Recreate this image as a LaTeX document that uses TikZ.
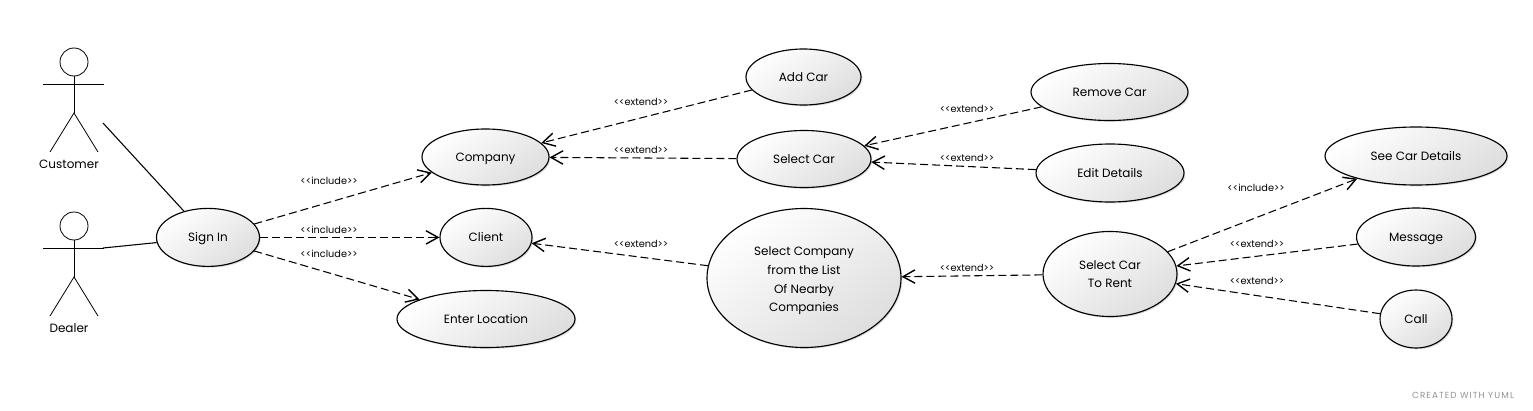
\documentclass[tikz,border=0pt]{standalone}
\usepackage{fontspec}
\setmainfont{Poppins}
\usetikzlibrary{shapes.geometric,arrows.meta,shadows,shadings}
\tikzset{
  x=0.75pt,y=-0.75pt,
  usecase/.style={ellipse,draw=black,line width=0.85pt,inner sep=0pt,
    top color=white,bottom color=black!13,shading angle=35,
    drop shadow={shadow xshift=1pt,shadow yshift=-1pt,fill=black,opacity=0.13},
    font=\fontsize{9}{13.9}\selectfont,align=center},
  oneline/.style={text height=8.3pt,text depth=2pt},
  dep/.style={draw=black,line width=0.8pt,dash pattern=on 6pt off 3pt,
    -{Straight Barb[length=9pt,width=10pt,line width=1.05pt]}},
  assoc/.style={draw=black,line width=0.8pt},
  stereo/.style={font=\fontsize{7.3}{9}\selectfont,inner sep=0pt},
  actorlabel/.style={font=\fontsize{9}{11}\selectfont,inner sep=0pt},
  limb/.style={draw=black,line width=0.6pt},
  credit/.style={font=\fontsize{6.6}{8}\selectfont\addfontfeature{LetterSpace=12},text=black!40!blue!10!white,text=gray!85,inner sep=0pt}
}
\newcommand{\actorfig}[3]{%
  \node[circle,draw=black,line width=0.6pt,minimum size=21pt,inner sep=0pt,fill=white] (#3h) at (#1,#2) {};
  \coordinate (#3n) at (#1,#2+22);
  \coordinate (#3l) at (#1-31,#2+22);
  \coordinate (#3r) at (#1+30,#2+22);
  \coordinate (#3w) at (#1,#2+51);
  \coordinate (#3a) at (#1-24,#2+90);
  \coordinate (#3b) at (#1+24,#2+90);
  \draw[limb] (#3h) -- (#3w);
  \draw[limb] (#3l) -- (#3r);
  \draw[limb] (#3a) -- (#3w) -- (#3b);
}
\begin{document}
\begin{tikzpicture}
\useasboundingbox[fill=white] (0,0) rectangle (1533,410);
\actorfig{74}{62}{cu}
\actorfig{74}{226}{de}
\node[actorlabel] (customer) at (69,164) {Customer};
\node[actorlabel] (dealer) at (69,328) {Dealer};

\node[usecase,oneline,minimum width=77.25pt,minimum height=43.5pt] (signin) at (208,237.4) {Sign In};
\node[usecase,oneline,minimum width=95.25pt,minimum height=42pt] (company) at (485.5,157) {Company};
\node[usecase,oneline,minimum width=69pt,minimum height=43.5pt] (client) at (486,237.4) {Client};
\node[usecase,oneline,minimum width=133.5pt,minimum height=42.75pt] (enter) at (486,319) {Enter Location};
\node[usecase,oneline,minimum width=86.25pt,minimum height=42pt] (addcar) at (803.5,77) {Add Car};
\node[usecase,oneline,minimum width=100.5pt,minimum height=42.75pt] (selcar) at (804,159) {Select Car};
\node[usecase,minimum width=145.5pt,minimum height=104.25pt] (selco) at (804,278) {\rule{0pt}{11pt}Select Company\\from the List\\Of Nearby\\Companies};
\node[usecase,oneline,minimum width=117.75pt,minimum height=42.75pt] (remove) at (1109.5,92) {Remove Car};
\node[usecase,oneline,minimum width=111pt,minimum height=43.5pt] (edit) at (1110,173) {Edit Details};
\node[usecase,minimum width=100.5pt,minimum height=63.75pt] (rent) at (1110,274) {Select Car\\To Rent};
\node[usecase,oneline,minimum width=136.5pt,minimum height=43.5pt] (details) at (1416,156) {See Car Details};
\node[usecase,oneline,minimum width=89.25pt,minimum height=43.5pt] (message) at (1416,237) {Message};
\node[usecase,oneline,minimum width=54pt,minimum height=43.5pt] (call) at (1416,319) {Call};

\coordinate (cuend) at (103,123);
\coordinate (deend) at (103,248);
\draw[assoc] (cuend) -- (signin);
\draw[assoc] (deend) -- (signin);

\draw[dep] (signin) -- (company);
\draw[dep] (signin) -- (client);
\draw[dep] (signin) -- (enter);
\draw[dep] (addcar) -- (company);
\draw[dep] (selcar) -- (company);
\draw[dep] (selco) -- (client);
\draw[dep] (remove) -- (selcar);
\draw[dep] (edit) -- (selcar);
\draw[dep] (rent) -- (selco);
\draw[dep] (rent) -- (details);
\draw[dep] (message) -- (rent);
\draw[dep] (call) -- (rent);

\node[stereo] (l1) at (329,181) {{<}{<}include{>}{>}};
\node[stereo] (l2) at (329,230) {{<}{<}include{>}{>}};
\node[stereo] (l3) at (329,254) {{<}{<}include{>}{>}};
\node[stereo] (l4) at (641,102) {{<}{<}extend{>}{>}};
\node[stereo] (l5) at (641,150) {{<}{<}extend{>}{>}};
\node[stereo] (l6) at (641,244) {{<}{<}extend{>}{>}};
\node[stereo] (l7) at (967,109) {{<}{<}extend{>}{>}};
\node[stereo] (l8) at (967,158) {{<}{<}extend{>}{>}};
\node[stereo] (l9) at (967,268) {{<}{<}extend{>}{>}};
\node[stereo] (l10) at (1256,188) {{<}{<}include{>}{>}};
\node[stereo] (l11) at (1257,244) {{<}{<}extend{>}{>}};
\node[stereo] (l12) at (1257,281) {{<}{<}extend{>}{>}};
\node[credit] (yuml) at (1463,395) {CREATED WITH YUML};
\end{tikzpicture}
\end{document}
